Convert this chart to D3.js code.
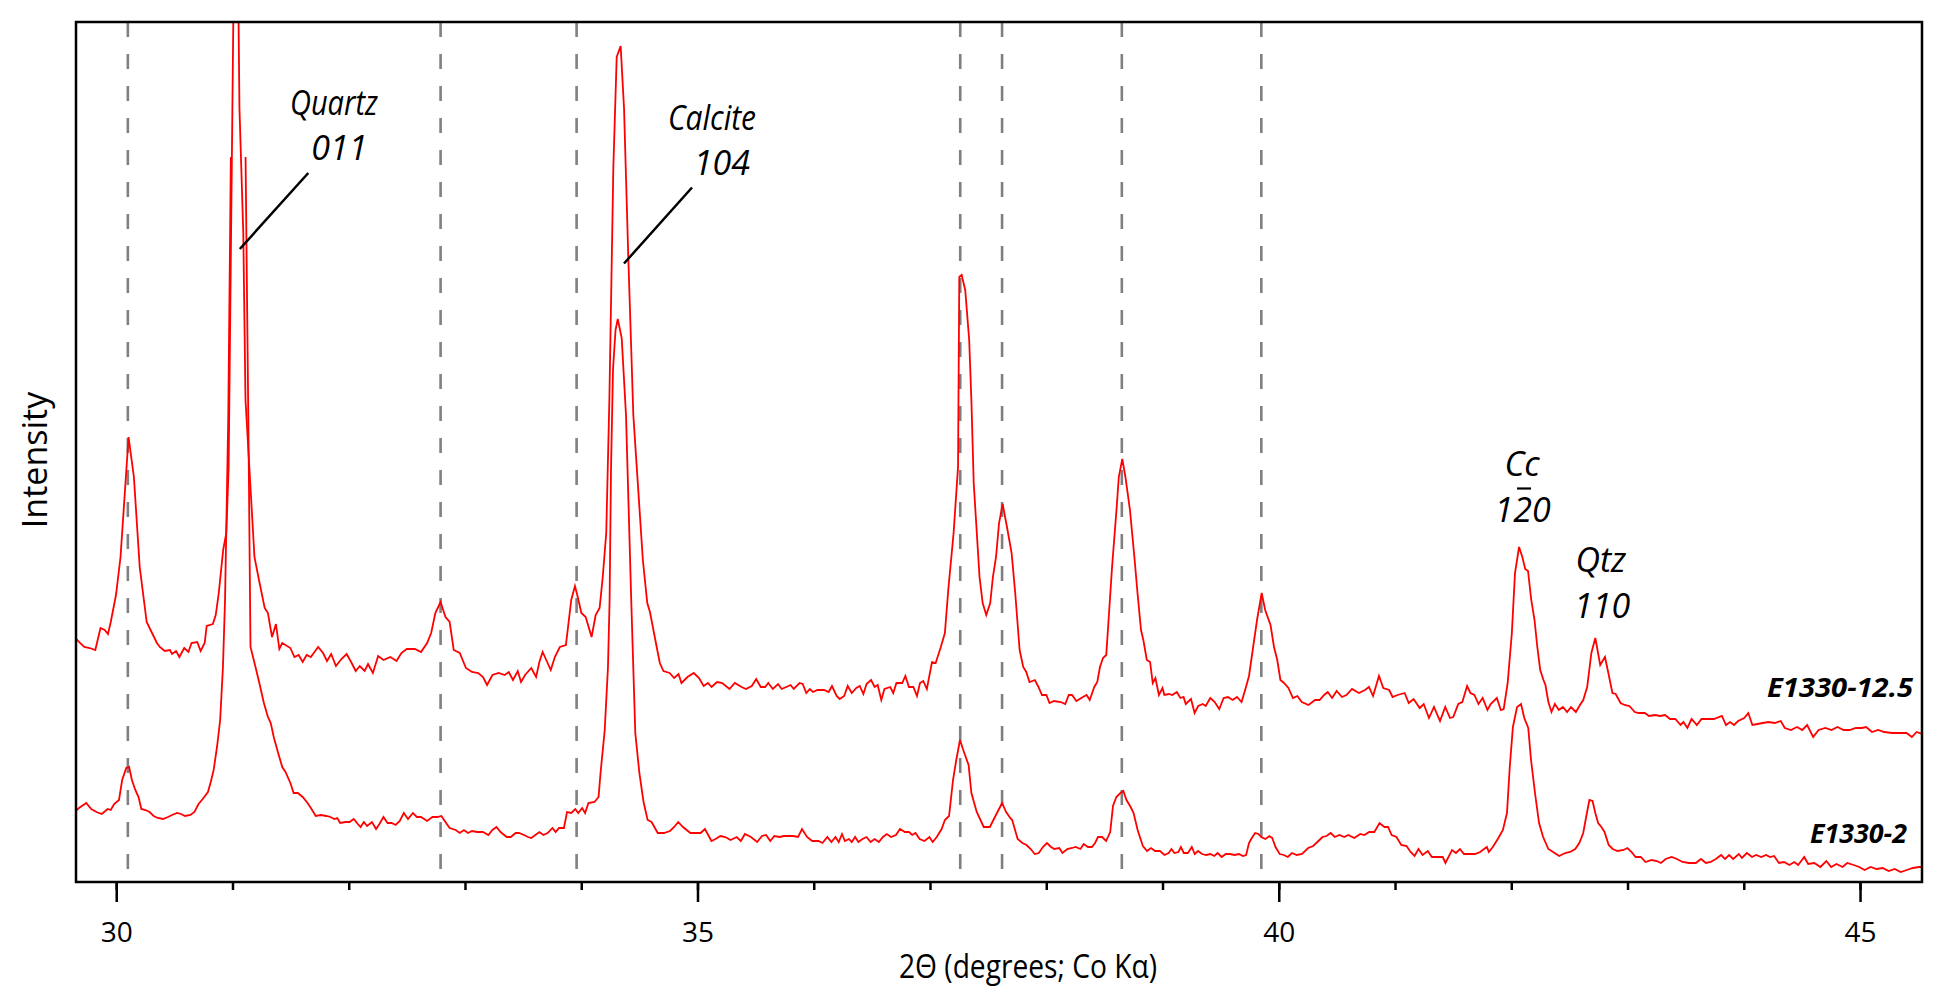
<!DOCTYPE html>
<html>
<head>
<meta charset="utf-8">
<script src="https://cdn.jsdelivr.net/npm/d3@7"></script>
<style>
  html, body { margin: 0; padding: 0; background: #ffffff; }
  svg { display: block; }
</style>
</head>
<body>
<svg id="chart" width="1936" height="998"></svg>
<script>
// ---------------- DATA ----------------
// 2-theta (degrees, Co K-alpha) vs. intensity (arbitrary units) for the two samples
const upperPattern = [ // E1330-12.5 (offset upward)
[29.651,244],[29.680,240],[29.725,235],[29.771,234],[29.820,232],[29.865,254],[29.901,252],[29.929,248],[29.953,260],[29.998,287],[30.037,325],[30.106,445],[30.152,405],[30.202,315],[30.262,260],[30.304,250],[30.350,239],[30.375,235],[30.417,231],[30.462,232],[30.480,228],[30.515,231],[30.543,225],[30.585,234],[30.621,230],[30.648,239],[30.697,240],[30.726,231],[30.761,239],[30.778,256],[30.831,258],[30.856,267],[30.882,289],[30.920,332],[30.947,349],[30.967,415],[31.030,1115],[31.060,774],[31.093,649],[31.112,482],[31.189,325],[31.228,302],[31.277,274],[31.305,269],[31.340,245],[31.374,258],[31.403,233],[31.428,239],[31.498,234],[31.533,225],[31.569,227],[31.604,220],[31.638,227],[31.674,225],[31.699,229],[31.737,235],[31.779,229],[31.813,221],[31.849,228],[31.890,216],[31.937,223],[31.982,228],[32.025,219],[32.060,211],[32.095,216],[32.137,211],[32.166,218],[32.208,209],[32.253,226],[32.299,222],[32.358,225],[32.411,221],[32.453,229],[32.499,233],[32.569,233],[32.622,230],[32.674,239],[32.709,249],[32.745,269],[32.790,280],[32.832,265],[32.868,260],[32.903,232],[32.955,229],[33.008,214],[33.060,210],[33.114,209],[33.155,205],[33.190,197],[33.236,207],[33.289,209],[33.342,207],[33.377,210],[33.413,202],[33.454,211],[33.482,200],[33.517,207],[33.570,214],[33.612,205],[33.640,220],[33.668,230],[33.703,221],[33.738,212],[33.773,225],[33.816,235],[33.868,237],[33.914,282],[33.946,296],[33.972,284],[34.001,269],[34.038,265],[34.089,245],[34.124,267],[34.158,274],[34.185,305],[34.215,349],[34.242,482],[34.276,714],[34.305,825],[34.339,836],[34.368,774],[34.405,624],[34.448,467],[34.530,322],[34.568,279],[34.591,270],[34.649,235],[34.676,219],[34.707,211],[34.760,209],[34.799,204],[34.837,208],[34.862,199],[34.914,205],[34.968,209],[35.013,204],[35.053,196],[35.090,199],[35.121,195],[35.168,200],[35.213,199],[35.275,193],[35.321,199],[35.379,195],[35.417,193],[35.467,196],[35.505,203],[35.544,195],[35.582,195],[35.609,199],[35.648,193],[35.693,198],[35.724,193],[35.763,195],[35.801,197],[35.828,193],[35.878,199],[35.905,198],[35.936,189],[35.966,193],[35.994,190],[36.032,192],[36.089,192],[36.128,190],[36.157,196],[36.197,186],[36.223,183],[36.262,186],[36.292,196],[36.327,189],[36.366,194],[36.396,196],[36.427,188],[36.454,198],[36.493,202],[36.524,195],[36.550,197],[36.581,182],[36.608,193],[36.658,195],[36.684,189],[36.711,199],[36.761,199],[36.788,206],[36.819,195],[36.857,195],[36.888,186],[36.914,199],[36.942,201],[36.973,193],[37.017,220],[37.049,219],[37.093,235],[37.128,249],[37.157,292],[37.203,349],[37.241,415],[37.252,605],[37.272,607],[37.303,592],[37.337,542],[37.356,482],[37.376,399],[37.426,305],[37.453,279],[37.484,267],[37.518,279],[37.541,305],[37.568,325],[37.594,359],[37.625,378],[37.662,355],[37.702,329],[37.733,289],[37.771,232],[37.802,215],[37.828,210],[37.856,200],[37.902,202],[37.933,195],[37.963,187],[38.001,187],[38.028,179],[38.067,181],[38.124,180],[38.163,178],[38.194,187],[38.222,187],[38.259,181],[38.316,185],[38.347,187],[38.374,182],[38.413,195],[38.439,200],[38.462,215],[38.488,224],[38.516,227],[38.540,269],[38.566,315],[38.604,372],[38.624,405],[38.654,423],[38.681,405],[38.720,372],[38.758,325],[38.785,289],[38.815,252],[38.835,242],[38.865,222],[38.893,220],[38.916,199],[38.939,204],[38.969,187],[39.000,194],[39.016,187],[39.054,188],[39.084,187],[39.123,190],[39.154,184],[39.181,185],[39.200,178],[39.245,183],[39.276,169],[39.307,176],[39.346,178],[39.372,176],[39.411,184],[39.449,180],[39.488,173],[39.526,184],[39.563,185],[39.603,182],[39.641,185],[39.680,180],[39.718,195],[39.744,206],[39.776,232],[39.813,262],[39.853,289],[39.883,272],[39.929,257],[39.959,235],[39.987,222],[40.014,202],[40.045,199],[40.083,194],[40.122,184],[40.160,186],[40.198,180],[40.256,177],[40.312,182],[40.351,182],[40.390,187],[40.421,190],[40.459,184],[40.498,191],[40.544,185],[40.582,187],[40.630,193],[40.689,189],[40.742,192],[40.776,195],[40.811,186],[40.862,206],[40.899,194],[40.950,192],[40.979,185],[41.021,187],[41.083,189],[41.118,179],[41.160,183],[41.212,174],[41.247,178],[41.292,164],[41.335,175],[41.387,161],[41.432,175],[41.473,164],[41.501,165],[41.544,178],[41.579,180],[41.620,196],[41.649,189],[41.683,187],[41.718,178],[41.754,184],[41.795,172],[41.823,178],[41.876,184],[41.910,172],[41.935,173],[41.969,199],[42.005,249],[42.032,309],[42.067,335],[42.095,325],[42.120,313],[42.144,311],[42.172,282],[42.200,262],[42.224,235],[42.249,212],[42.277,202],[42.294,197],[42.319,180],[42.346,170],[42.375,178],[42.409,172],[42.444,175],[42.480,170],[42.514,175],[42.556,170],[42.591,177],[42.619,182],[42.653,195],[42.689,229],[42.723,244],[42.765,217],[42.806,225],[42.835,209],[42.870,189],[42.898,188],[42.940,179],[42.974,177],[43.016,176],[43.062,170],[43.096,169],[43.149,169],[43.184,166],[43.237,167],[43.281,166],[43.323,167],[43.366,163],[43.411,163],[43.456,157],[43.481,160],[43.515,154],[43.551,163],[43.596,157],[43.637,163],[43.690,163],[43.742,163],[43.812,166],[43.847,157],[43.882,160],[43.916,157],[43.951,161],[44.004,164],[44.039,169],[44.074,157],[44.119,158],[44.161,159],[44.214,160],[44.265,159],[44.318,161],[44.353,154],[44.406,152],[44.458,155],[44.503,152],[44.545,157],[44.597,145],[44.643,152],[44.702,154],[44.754,152],[44.806,155],[44.859,152],[44.911,152],[44.964,154],[45.016,154],[45.052,155],[45.103,150],[45.156,152],[45.208,150],[45.278,149],[45.341,149],[45.400,149],[45.446,145],[45.487,150],[45.533,148]
];

const lowerPattern = [ // E1330-2
[29.651,71],[29.680,74],[29.742,79],[29.785,73],[29.830,70],[29.876,68],[29.926,73],[29.953,72],[29.982,78],[30.024,82],[30.051,102],[30.086,114],[30.111,115],[30.135,102],[30.164,92],[30.192,85],[30.216,73],[30.252,72],[30.287,70],[30.322,66],[30.357,64],[30.402,63],[30.445,65],[30.480,67],[30.523,69],[30.557,68],[30.592,66],[30.638,67],[30.673,70],[30.708,78],[30.744,83],[30.789,90],[30.813,100],[30.838,112],[30.867,135],[30.894,162],[30.918,215],[30.936,282],[30.964,467],[31.047,1440],[31.136,467],[31.155,235],[31.198,215],[31.225,202],[31.270,179],[31.305,165],[31.329,159],[31.357,144],[31.393,129],[31.428,115],[31.456,110],[31.498,99],[31.526,89],[31.562,89],[31.604,85],[31.646,79],[31.680,73],[31.716,66],[31.761,67],[31.807,66],[31.842,65],[31.877,63],[31.902,64],[31.926,59],[31.972,60],[32.007,60],[32.043,63],[32.078,58],[32.102,55],[32.130,60],[32.158,56],[32.200,60],[32.235,53],[32.264,58],[32.299,65],[32.334,59],[32.369,59],[32.404,57],[32.439,61],[32.474,69],[32.510,63],[32.552,69],[32.586,65],[32.622,65],[32.674,61],[32.720,65],[32.762,65],[32.797,66],[32.832,60],[32.868,54],[32.920,52],[32.955,49],[32.991,52],[33.026,49],[33.060,51],[33.106,50],[33.155,50],[33.201,47],[33.236,52],[33.271,55],[33.306,50],[33.359,45],[33.394,45],[33.436,49],[33.465,49],[33.507,47],[33.542,45],[33.570,44],[33.605,47],[33.640,50],[33.675,47],[33.711,49],[33.752,54],[33.780,50],[33.809,54],[33.851,54],[33.878,70],[33.914,69],[33.949,73],[33.974,69],[34.008,74],[34.033,69],[34.062,79],[34.114,80],[34.149,85],[34.166,109],[34.202,152],[34.230,215],[34.244,282],[34.256,412],[34.273,512],[34.295,552],[34.314,563],[34.348,544],[34.385,467],[34.430,282],[34.465,149],[34.500,109],[34.536,80],[34.571,62],[34.605,60],[34.658,49],[34.711,49],[34.764,51],[34.799,55],[34.834,60],[34.875,55],[34.939,49],[34.991,49],[35.027,49],[35.064,53],[35.120,41],[35.155,43],[35.197,46],[35.239,45],[35.285,42],[35.337,45],[35.373,41],[35.408,48],[35.460,45],[35.513,40],[35.555,46],[35.590,47],[35.626,41],[35.661,46],[35.706,45],[35.742,46],[35.822,46],[35.865,45],[35.899,53],[35.942,45],[35.987,41],[36.040,41],[36.075,39],[36.117,45],[36.152,40],[36.187,45],[36.215,40],[36.243,48],[36.268,41],[36.303,43],[36.327,40],[36.356,45],[36.384,40],[36.419,43],[36.454,45],[36.489,40],[36.524,43],[36.560,40],[36.595,45],[36.629,48],[36.665,45],[36.707,47],[36.742,53],[36.784,50],[36.819,50],[36.847,47],[36.875,49],[36.911,43],[36.953,41],[36.995,45],[37.023,40],[37.058,45],[37.100,53],[37.128,62],[37.164,66],[37.198,102],[37.226,122],[37.258,142],[37.286,132],[37.332,117],[37.356,89],[37.402,70],[37.462,55],[37.515,55],[37.567,67],[37.620,79],[37.655,70],[37.690,64],[37.707,62],[37.754,43],[37.795,39],[37.830,37],[37.866,33],[37.901,28],[37.936,29],[37.971,35],[38.006,39],[38.041,35],[38.069,33],[38.112,34],[38.139,29],[38.181,33],[38.223,34],[38.252,35],[38.294,33],[38.322,38],[38.358,35],[38.392,35],[38.420,39],[38.445,45],[38.480,45],[38.515,41],[38.550,50],[38.574,76],[38.603,85],[38.638,89],[38.663,91],[38.690,82],[38.726,75],[38.751,69],[38.786,52],[38.831,36],[38.867,31],[38.901,34],[38.936,31],[38.978,31],[39.017,27],[39.053,29],[39.077,33],[39.102,29],[39.137,30],[39.158,35],[39.183,29],[39.218,29],[39.252,35],[39.277,28],[39.306,31],[39.340,28],[39.375,27],[39.411,28],[39.446,26],[39.474,29],[39.509,25],[39.544,28],[39.579,28],[39.621,27],[39.657,28],[39.692,26],[39.719,27],[39.744,39],[39.768,44],[39.797,49],[39.825,48],[39.849,45],[39.885,43],[39.920,46],[39.944,44],[39.972,35],[40.008,28],[40.043,27],[40.078,25],[40.113,29],[40.155,27],[40.200,28],[40.253,34],[40.296,36],[40.341,41],[40.376,45],[40.411,46],[40.446,49],[40.482,45],[40.522,47],[40.563,45],[40.598,47],[40.649,44],[40.702,48],[40.736,47],[40.778,50],[40.822,50],[40.867,59],[40.909,55],[40.940,55],[40.971,47],[41.012,45],[41.054,37],[41.099,36],[41.134,30],[41.168,26],[41.202,33],[41.237,27],[41.282,31],[41.317,25],[41.365,25],[41.410,25],[41.434,19],[41.490,32],[41.524,29],[41.559,33],[41.593,28],[41.634,28],[41.687,28],[41.732,30],[41.766,33],[41.790,35],[41.807,30],[41.841,35],[41.884,43],[41.928,52],[41.963,69],[41.987,115],[42.014,155],[42.050,175],[42.084,178],[42.112,164],[42.146,154],[42.170,122],[42.204,89],[42.239,59],[42.274,45],[42.319,33],[42.360,30],[42.412,26],[42.464,29],[42.506,30],[42.550,33],[42.585,39],[42.619,49],[42.644,65],[42.672,82],[42.699,81],[42.723,69],[42.747,59],[42.775,55],[42.802,50],[42.838,37],[42.872,33],[42.913,31],[42.965,32],[42.999,34],[43.035,30],[43.069,25],[43.114,25],[43.155,20],[43.207,22],[43.252,21],[43.287,19],[43.328,23],[43.380,25],[43.425,23],[43.473,20],[43.528,19],[43.587,19],[43.632,23],[43.674,19],[43.715,20],[43.760,23],[43.805,27],[43.839,23],[43.874,27],[43.909,23],[43.957,28],[43.984,24],[44.027,29],[44.071,25],[44.106,27],[44.150,25],[44.192,27],[44.226,25],[44.261,26],[44.303,19],[44.347,20],[44.392,17],[44.434,20],[44.468,17],[44.520,25],[44.554,18],[44.607,19],[44.659,15],[44.710,21],[44.752,15],[44.797,18],[44.849,15],[44.890,19],[44.945,17],[44.994,15],[45.039,12],[45.091,15],[45.142,13],[45.195,14],[45.246,11],[45.298,13],[45.350,10],[45.402,12],[45.454,14],[45.506,15],[45.533,15]
];

// reference peak positions (dashed lines), degrees 2-theta
const referenceLines = [30.10, 32.79, 33.96, 37.26, 37.62, 38.65, 39.85];

// axis ticks
const majorTicks = [30, 35, 40, 45];
const minorTicks = [30, 31, 32, 33, 34, 35, 36, 37, 38, 39, 40, 41, 42, 43, 44, 45];

// axis extents
const thetaDomain = [29.654, 45.533];
const intensityDomain = [0, 860];
const lowerClipLevel = 725;   // the E1330-2 quartz peak is cut off at this level

// peak annotations
const peakLabels = ["Quartz", "011", "Calcite", "104", "Cc", "120", "Qtz", "110"];
const peakLabelTheta = [31.873, 31.92, 35.125, 35.21, 42.093, 42.097, 42.770, 42.781];
const peakLabelIntensity = [767, 722, 752, 707, 406, 360, 310, 264];
const overbarLabel = "120";         // bar above the "2" (1-bar-2-0)
const leaderLines = [               // [theta1, I1, theta2, I2]
  [31.652, 709, 31.063, 633],
  [34.953, 694.5, 34.368, 618.5]
];

// sample names
const sampleNames = ["E1330-12.5", "E1330-2"];
const sampleLabelTheta = [45.456, 45.404];
const sampleLabelIntensity = [185, 39];

// ---------------- LAYOUT ----------------
const FONT = "'Open Sans', 'Noto Sans', 'DejaVu Sans', sans-serif";
const plot = { left: 76, right: 1922, top: 22, bottom: 882 };
const labelWidths = { "Quartz": 88, "Calcite": 88 };           // narrow (condensed) face
const sampleLabelWidths = { "E1330-12.5": 146, "E1330-2": 97 };

// ---------------- CHART ----------------
const svg = d3.select("#chart");
svg.append("rect").attr("width", 1936).attr("height", 998).attr("fill", "#ffffff");

const x = d3.scaleLinear().domain(thetaDomain).range([plot.left, plot.right]);
const y = d3.scaleLinear().domain(intensityDomain).range([plot.bottom, plot.top]);

const defs = svg.append("defs");
defs.append("clipPath").attr("id", "clipPlot")
  .append("rect")
  .attr("x", plot.left).attr("y", plot.top)
  .attr("width", plot.right - plot.left).attr("height", plot.bottom - plot.top);
defs.append("clipPath").attr("id", "clipLower")
  .append("rect")
  .attr("x", plot.left).attr("y", y(lowerClipLevel))
  .attr("width", plot.right - plot.left).attr("height", plot.bottom - y(lowerClipLevel));

// dashed reference lines
svg.append("g")
  .selectAll("line")
  .data(referenceLines)
  .join("line")
  .attr("x1", d => x(d)).attr("x2", d => x(d))
  .attr("y1", y(intensityDomain[1])).attr("y2", y(intensityDomain[0]))
  .attr("stroke", "#808080")
  .attr("stroke-width", 2.6)
  .attr("stroke-dasharray", "15,17");

// patterns
const line = d3.line().x(d => x(d[0])).y(d => y(d[1]));

svg.append("path")
  .datum(upperPattern)
  .attr("clip-path", "url(#clipPlot)")
  .attr("d", line)
  .attr("fill", "none")
  .attr("stroke", "#ff0000")
  .attr("stroke-width", 1.8);

svg.append("g").attr("clip-path", "url(#clipPlot)")
  .append("path")
  .datum(lowerPattern)
  .attr("clip-path", "url(#clipLower)")
  .attr("d", line)
  .attr("fill", "none")
  .attr("stroke", "#ff0000")
  .attr("stroke-width", 1.8);

// x axis: minor and major ticks
const axMinor = svg.append("g")
  .attr("transform", `translate(0,${plot.bottom})`)
  .call(d3.axisBottom(x).tickValues(minorTicks).tickSize(8).tickFormat(""));
axMinor.select(".domain").remove();
axMinor.selectAll(".tick line").attr("stroke", "#000").attr("stroke-width", 2.5);

const axMajor = svg.append("g")
  .attr("transform", `translate(0,${plot.bottom})`)
  .call(d3.axisBottom(x).tickValues(majorTicks).tickSize(20).tickFormat(d3.format("d")));
axMajor.select(".domain").remove();
axMajor.selectAll(".tick line").attr("stroke", "#000").attr("stroke-width", 2.5);
axMajor.selectAll(".tick text")
  .attr("y", 60).attr("dy", 0)
  .attr("fill", "#000")
  .style("font-family", FONT)
  .style("font-size", "28px");

// frame
svg.append("rect")
  .attr("x", plot.left).attr("y", plot.top)
  .attr("width", plot.right - plot.left).attr("height", plot.bottom - plot.top)
  .attr("fill", "none")
  .attr("stroke", "#000")
  .attr("stroke-width", 2.5);

// axis titles
svg.append("text")
  .attr("x", 1028)
  .attr("y", 978)
  .attr("text-anchor", "middle")
  .attr("textLength", 258)
  .attr("lengthAdjust", "spacingAndGlyphs")
  .style("font-family", FONT)
  .style("font-size", "32px")
  .attr("fill", "#000")
  .text("2Θ (degrees; Co Kα)");

svg.append("text")
  .attr("transform", "translate(47,460) rotate(-90)")
  .attr("text-anchor", "middle")
  .style("font-family", FONT)
  .style("font-size", "34px")
  .attr("fill", "#000")
  .text("Intensity");

// peak labels
const labelG = svg.append("g");
peakLabels.forEach((t, i) => {
  const tx = labelG.append("text")
    .attr("x", x(peakLabelTheta[i]))
    .attr("y", y(peakLabelIntensity[i]))
    .attr("text-anchor", "middle")
    .style("font-family", FONT)
    .style("font-style", "italic")
    .style("font-size", "34px")
    .attr("fill", "#000")
    .text(t);
  if (labelWidths[t]) {
    tx.attr("textLength", labelWidths[t]).attr("lengthAdjust", "spacingAndGlyphs");
  }
  if (t === overbarLabel) {
    const ext = tx.node().getExtentOfChar(1);
    const cx = ext.x + ext.width / 2 + 1.5;
    const by = y(peakLabelIntensity[i]) - 33.5;
    labelG.append("line")
      .attr("x1", cx - 7).attr("x2", cx + 7)
      .attr("y1", by).attr("y2", by)
      .attr("stroke", "#000").attr("stroke-width", 2.2);
  }
});

// leader lines
svg.append("g")
  .selectAll("line")
  .data(leaderLines)
  .join("line")
  .attr("x1", d => x(d[0])).attr("y1", d => y(d[1]))
  .attr("x2", d => x(d[2])).attr("y2", d => y(d[3]))
  .attr("stroke", "#000")
  .attr("stroke-width", 2.5);

// sample labels
svg.append("g")
  .selectAll("text")
  .data(sampleNames)
  .join("text")
  .attr("x", (d, i) => x(sampleLabelTheta[i]))
  .attr("y", (d, i) => y(sampleLabelIntensity[i]))
  .attr("text-anchor", "end")
  .attr("textLength", d => sampleLabelWidths[d])
  .attr("lengthAdjust", "spacingAndGlyphs")
  .style("font-family", FONT)
  .style("font-style", "italic")
  .style("font-weight", "bold")
  .style("font-size", "27px")
  .attr("fill", "#000")
  .text(d => d);
</script>
</body>
</html>
